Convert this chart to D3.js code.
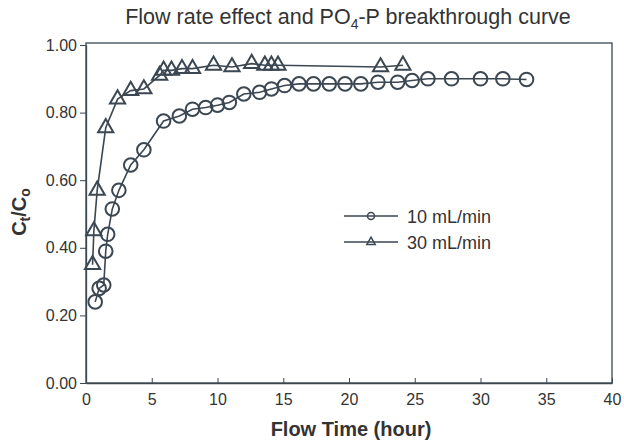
<!DOCTYPE html>
<html>
<head>
<meta charset="utf-8">
<script src="https://cdn.jsdelivr.net/npm/d3@7"></script>
<style>
  body { margin: 0; background: #fff; }
  text { font-family: "Liberation Sans", Arial, sans-serif; fill: #333; }
</style>
</head>
<body>
<div id="chart"></div>
<script>
// 10 mL/min (circles)
const flow10Time = [0.7, 1.0, 1.35, 1.5, 1.65, 2.0, 2.5, 3.4, 4.4, 5.9, 7.1, 8.1, 9.1, 10.0, 10.9, 12.0, 13.2, 14.1, 15.1, 16.2, 17.3, 18.5, 19.7, 20.9, 22.2, 23.7, 24.8, 26.0, 27.8, 30.0, 31.7, 33.5];
const flow10Ratio = [0.24, 0.28, 0.29, 0.39, 0.44, 0.515, 0.57, 0.645, 0.69, 0.775, 0.79, 0.81, 0.815, 0.822, 0.83, 0.855, 0.86, 0.87, 0.88, 0.885, 0.885, 0.885, 0.885, 0.885, 0.89, 0.89, 0.895, 0.9, 0.9, 0.9, 0.9, 0.898];
// 30 mL/min (triangles)
const flow30Time = [0.5, 0.6, 0.85, 1.5, 2.4, 3.4, 4.4, 5.6, 5.9, 6.5, 7.3, 8.1, 9.7, 11.1, 12.6, 13.6, 14.1, 14.6, 22.4, 24.1];
const flow30Ratio = [0.35, 0.45, 0.57, 0.755, 0.84, 0.865, 0.87, 0.91, 0.925, 0.925, 0.93, 0.93, 0.94, 0.935, 0.945, 0.94, 0.94, 0.94, 0.935, 0.94];

const xTicks = [0, 5, 10, 15, 20, 25, 30, 35, 40];
const yTicks = [0, 0.2, 0.4, 0.6, 0.8, 1.0];
const seriesNames = ["10 mL/min", "30 mL/min"];

const width = 624, height = 442;
const margin = { top: 45, right: 12, bottom: 59, left: 86 };
const innerW = width - margin.left - margin.right;
const innerH = height - margin.top - margin.bottom;
const ink = "#3b4752";

const svg = d3.select("#chart").append("svg")
  .attr("width", width)
  .attr("height", height);

const g = svg.append("g")
  .attr("transform", `translate(${margin.left},${margin.top})`);

const x = d3.scaleLinear().domain([0, 40]).range([0, innerW]);
const y = d3.scaleLinear().domain([0, 1]).range([innerH, 0]);

// frame
g.append("rect")
  .attr("x", 0).attr("y", -2)
  .attr("width", innerW).attr("height", innerH + 2)
  .attr("fill", "none")
  .attr("stroke", ink)
  .attr("stroke-width", 1.3);

const xAxis = g.append("g")
  .attr("transform", `translate(0,${innerH})`)
  .call(d3.axisBottom(x).tickValues(xTicks).tickSizeInner(-5).tickSizeOuter(0).tickPadding(11));
xAxis.select(".domain").attr("stroke", ink).attr("stroke-width", 1.3);
xAxis.selectAll("line").attr("stroke", ink);
xAxis.selectAll("text").style("font-size", "16px").attr("fill", "#333");

const yAxis = g.append("g")
  .call(d3.axisLeft(y).tickValues(yTicks).tickFormat(d3.format(".2f")).tickSizeInner(6).tickSizeOuter(0).tickPadding(3));
yAxis.select(".domain").attr("stroke", ink).attr("stroke-width", 1.3);
yAxis.selectAll("line").attr("stroke", ink);
yAxis.selectAll("text").style("font-size", "16px").attr("fill", "#333");

const line = d3.line().x(d => x(d[0])).y(d => y(d[1]));
const s10 = flow10Time.map((t, i) => [t, flow10Ratio[i]]);
const s30 = flow30Time.map((t, i) => [t, flow30Ratio[i]]);

[s10, s30].forEach(s => {
  g.append("path")
    .datum(s)
    .attr("d", line)
    .attr("fill", "none")
    .attr("stroke", ink)
    .attr("stroke-width", 1.6);
});

g.selectAll(".circ")
  .data(s10)
  .enter()
  .append("circle")
  .attr("class", "circ")
  .attr("cx", d => x(d[0]))
  .attr("cy", d => y(d[1]))
  .attr("r", 6.8)
  .attr("fill", "none")
  .attr("stroke", ink)
  .attr("stroke-width", 2);

const tri = d3.symbol().type(d3.symbolTriangle).size(100);
g.selectAll(".tri")
  .data(s30)
  .enter()
  .append("path")
  .attr("class", "tri")
  .attr("transform", d => `translate(${x(d[0])},${y(d[1])})`)
  .attr("d", tri)
  .attr("fill", "none")
  .attr("stroke", ink)
  .attr("stroke-width", 2);

// legend
const legend = svg.append("g").attr("transform", "translate(344,216)");
seriesNames.forEach((name, i) => {
  const row = legend.append("g").attr("transform", `translate(0,${i * 26})`);
  row.append("line")
    .attr("x1", 0).attr("x2", 54)
    .attr("stroke", ink).attr("stroke-width", 1.5);
  if (i === 0) {
    row.append("circle").attr("cx", 27).attr("r", 3.5)
      .attr("fill", "none").attr("stroke", ink).attr("stroke-width", 1.5);
  } else {
    row.append("path").attr("transform", "translate(27,0)")
      .attr("d", d3.symbol().type(d3.symbolTriangle).size(30))
      .attr("fill", "none").attr("stroke", ink).attr("stroke-width", 1.5);
  }
  row.append("text")
    .attr("x", 63).attr("y", 6.5)
    .style("font-size", "18px")
    .text(name);
});

// title
const title = svg.append("text")
  .attr("x", 348).attr("y", 24)
  .attr("text-anchor", "middle")
  .style("font-size", "21.5px");
title.append("tspan").text("Flow rate effect and PO");
title.append("tspan").attr("dy", 5).style("font-size", "14px").text("4");
title.append("tspan").attr("dy", -5).text("-P breakthrough curve");

// x label
svg.append("text")
  .attr("x", 351).attr("y", 436)
  .attr("text-anchor", "middle")
  .style("font-size", "20px")
  .style("font-weight", "bold")
  .attr("fill", "#555")
  .text("Flow Time (hour)");

// y label
const yl = svg.append("text")
  .attr("transform", "translate(26,212) rotate(-90)")
  .attr("text-anchor", "middle")
  .style("font-size", "20px")
  .style("font-weight", "bold")
  .attr("fill", "#555");
yl.append("tspan").text("C");
yl.append("tspan").attr("dy", 4).style("font-size", "14px").text("t");
yl.append("tspan").attr("dy", -4).text("/C");
yl.append("tspan").attr("dy", 4).style("font-size", "14px").text("o");
</script>
</body>
</html>
